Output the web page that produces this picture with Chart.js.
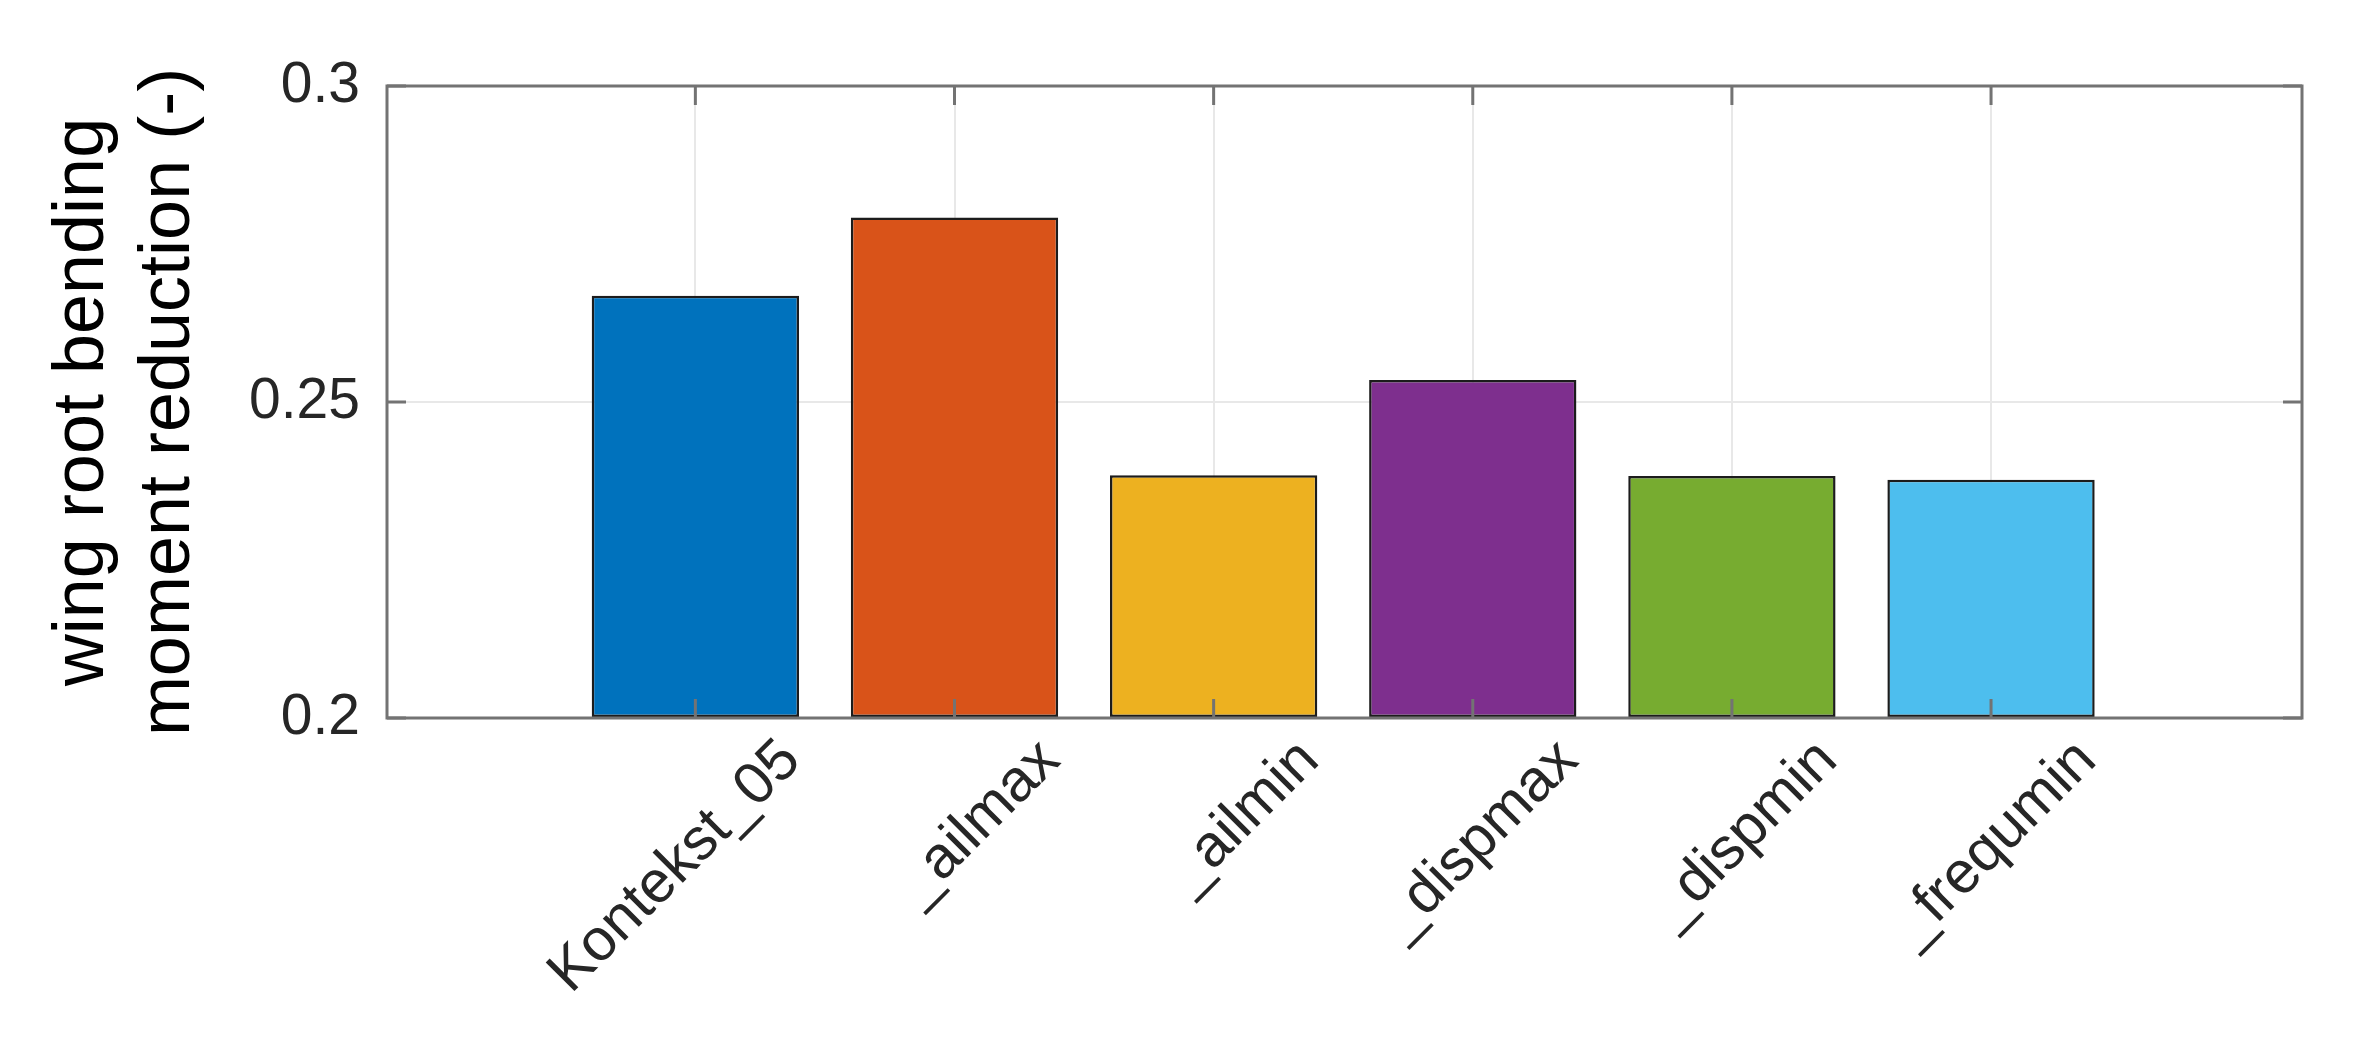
<!DOCTYPE html>
<html>
<head>
<meta charset="utf-8">
<script src="https://cdn.jsdelivr.net/npm/chart.js@4.4.1/dist/chart.umd.min.js"></script>
<style>
  html, body { margin: 0; padding: 0; background: #ffffff; }
  #wrap { width: 2368px; height: 1059px; }
</style>
</head>
<body>
<div id="wrap"><canvas id="myChart" width="2368" height="1059"></canvas></div>
<script>
// data
const categories = ["Kontekst_05", "_ailmax", "_ailmin", "_dispmax", "_dispmin", "_frequmin"];
const reduction = [0.2668, 0.2792, 0.2384, 0.2535, 0.2383, 0.2377];
const barColors = ["#0072BD", "#D95319", "#EDB120", "#7E2F8E", "#77AC30", "#4DBEEE"];
const yTicks = [0.2, 0.25, 0.3];
const xMin = -0.19, xMax = 7.2;
const yMin = 0.2, yMax = 0.3;

const fontFamily = "'Liberation Sans', Arial, Helvetica, sans-serif";
const axisColor = "#737373";
const textColor = "#262626";

// MATLAB style box with inward ticks
const boxPlugin = {
  id: "box",
  afterDatasetsDraw(chart) {
    const ctx = chart.ctx;
    const a = chart.chartArea;
    const xs = chart.scales.x;
    const ys = chart.scales.y;
    const len = 19;
    ctx.save();
    ctx.strokeStyle = axisColor;
    ctx.lineWidth = 3;
    ctx.beginPath();
    categories.forEach((c, i) => {
      const px = xs.getPixelForValue(i + 1);
      ctx.moveTo(px, a.bottom);
      ctx.lineTo(px, a.bottom - len);
      ctx.moveTo(px, a.top);
      ctx.lineTo(px, a.top + len);
    });
    yTicks.forEach((v) => {
      const py = ys.getPixelForValue(v);
      ctx.moveTo(a.left, py);
      ctx.lineTo(a.left + len, py);
      ctx.moveTo(a.right, py);
      ctx.lineTo(a.right - len, py);
    });
    ctx.stroke();
    ctx.strokeRect(a.left, a.top, a.right - a.left, a.bottom - a.top);
    ctx.restore();
  },
};

const ctx = document.getElementById("myChart").getContext("2d");
const myChart = new Chart(ctx, {
  type: "bar",
  data: {
    datasets: [
      {
        data: reduction.map((v, i) => ({ x: i + 1, y: v })),
        backgroundColor: barColors,
        borderColor: "#1c1c1c",
        borderWidth: 2.5,
        borderSkipped: false,
        base: yMin,
        barPercentage: 0.8,
        categoryPercentage: 1,
      },
    ],
  },
  options: {
    responsive: false,
    animation: false,
    devicePixelRatio: 1,
    layout: { padding: { top: 86, right: 66, left: 0, bottom: 0 } },
    plugins: {
      legend: { display: false },
      tooltip: { enabled: false },
    },
    scales: {
      x: {
        type: "linear",
        min: xMin,
        max: xMax,
        offset: false,
        afterBuildTicks: (scale) => {
          scale.ticks = categories.map((c, i) => ({ value: i + 1 }));
        },
        afterFit: (scale) => {
          scale.height = 1059 - 718;
        },
        grid: {
          color: "#e8e8e8",
          lineWidth: 2,
          offset: false,
          drawTicks: false,
        },
        border: { display: false },
        ticks: {
          autoSkip: false,
          minRotation: 45,
          maxRotation: 45,
          padding: 8,
          labelOffset: 96,
          color: textColor,
          font: { family: fontFamily, size: 59 },
          callback: (v) => categories[v - 1],
        },
      },
      y: {
        min: yMin,
        max: yMax,
        afterBuildTicks: (scale) => {
          scale.ticks = yTicks.map((v) => ({ value: v }));
        },
        afterFit: (scale) => {
          scale.width = 387;
        },
        grid: {
          color: "#e8e8e8",
          lineWidth: 2,
          drawTicks: false,
        },
        border: { display: false },
        ticks: {
          padding: 27,
          color: textColor,
          font: { family: fontFamily, size: 57 },
          callback: (v) => String(Number(v.toFixed(2))),
        },
        title: {
          display: true,
          text: ["wing root bending", "moment reduction (-)"],
          color: "#000000",
          font: { family: fontFamily, size: 72 },
          padding: { top: 40, bottom: 0 },
        },
      },
    },
  },
  plugins: [boxPlugin],
});
</script>
</body>
</html>
